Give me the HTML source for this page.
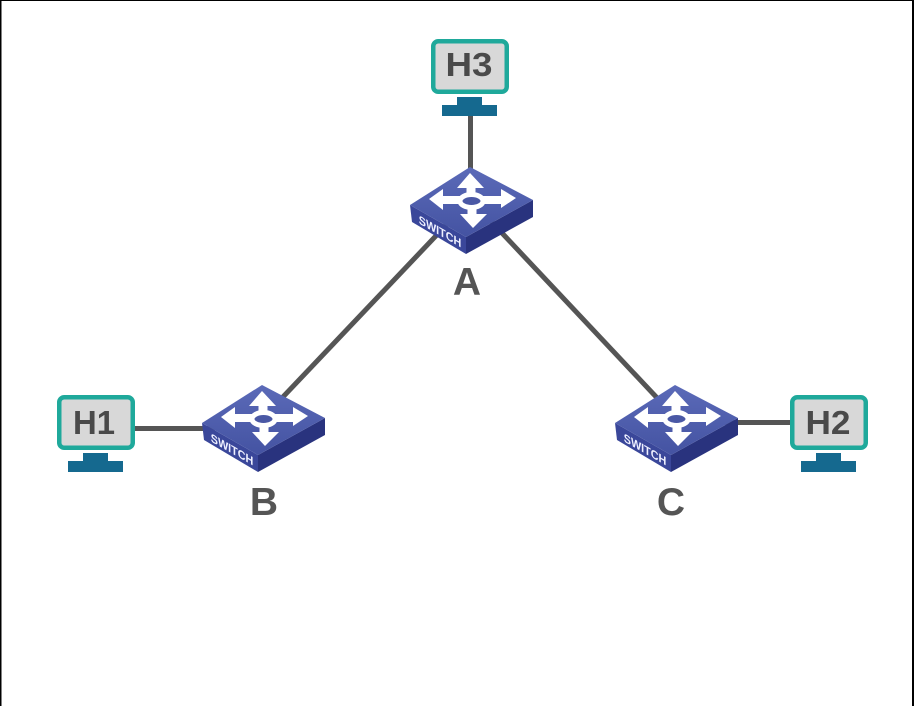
<!DOCTYPE html>
<html><head><meta charset="utf-8"><style>
html,body{margin:0;padding:0;background:#fff;}
svg{display:block;}
</style></head><body>
<svg width="914" height="706" viewBox="0 0 914 706" xmlns="http://www.w3.org/2000/svg">
<defs>
<linearGradient id="topg" x1="0" y1="0" x2="0" y2="1">
<stop offset="0" stop-color="#5b6ab8"/><stop offset="1" stop-color="#4453a2"/>
</linearGradient>
<g id="sw">
<polygon points="-60,38 -4,70 -4,87 -58,55" fill="#3a479a"/>
<polygon points="-4,70 63,33 63,50 -4,87" fill="#29337e"/>
<polygon points="0,0 63,33 -4,70 -60,38" fill="url(#topg)"/>
<g fill="#ffffff" stroke="none">
<polygon points="0,6 14,21 -13,21"/>
<rect x="-3.5" y="19" width="9" height="10"/>
<polygon points="3,61 17,47 -10,47"/>
<rect x="-2.5" y="39" width="9" height="10"/>
<polygon points="-41,32 -27,22 -27,43"/>
<rect x="-29" y="29" width="19" height="8"/>
<polygon points="46,31 31,22 31,41"/>
<rect x="12" y="29" width="21" height="8"/>
</g>
<ellipse cx="1.5" cy="34" rx="11.5" ry="6.5" fill="#4a58a5" stroke="#ffffff" stroke-width="5"/>
<text transform="matrix(0.868,0.496,0,1,-30,64)" x="0" y="4.5" text-anchor="middle" font-family="Liberation Sans, sans-serif" font-weight="bold" font-size="12" fill="#eef0ff" textLength="49" lengthAdjust="spacingAndGlyphs">SWITCH</text>
</g>
<g id="mon">
<rect x="2.25" y="2.25" width="73.5" height="50.5" rx="5" ry="5" fill="#d8d8d8" stroke="#1fa99b" stroke-width="4.5"/>
<rect x="26" y="58" width="25" height="9" fill="#15698f"/>
<rect x="11" y="66" width="55" height="11" fill="#15698f"/>
</g>
</defs>

<rect x="0" y="0" width="914" height="1" fill="#000"/>
<rect x="0" y="0" width="1.5" height="706" fill="#000"/>
<rect x="912" y="0" width="2" height="706" fill="#000"/>

<g stroke="#555555" stroke-width="5" fill="none">
<line x1="470.5" y1="114" x2="470.5" y2="180"/>
<line x1="470" y1="200" x2="262" y2="419"/>
<line x1="470" y1="199" x2="676" y2="418"/>
<line x1="132" y1="428.5" x2="215" y2="428.5"/>
<line x1="725" y1="422.5" x2="793" y2="422.5"/>
</g>

<use href="#mon" transform="translate(431,39)"/>
<use href="#mon" transform="translate(57,395)"/>
<use href="#mon" transform="translate(790,395)"/>
<g font-family="Liberation Sans, sans-serif" font-weight="bold" font-size="33" fill="#4a4a4a" text-anchor="middle">
<text x="469" y="76" textLength="47" lengthAdjust="spacingAndGlyphs">H3</text>
<text x="94" y="434" textLength="42" lengthAdjust="spacingAndGlyphs">H1</text>
<text x="828" y="434" textLength="45" lengthAdjust="spacingAndGlyphs">H2</text>
</g>

<use href="#sw" transform="translate(470,167)"/>
<use href="#sw" transform="translate(262,385)"/>
<use href="#sw" transform="translate(675,385)"/>

<g font-family="Liberation Sans, sans-serif" font-weight="bold" font-size="39" fill="#555555" text-anchor="middle">
<text x="467" y="295">A</text>
<text x="264" y="515">B</text>
<text x="671" y="515">C</text>
</g>
</svg>
</body></html>
